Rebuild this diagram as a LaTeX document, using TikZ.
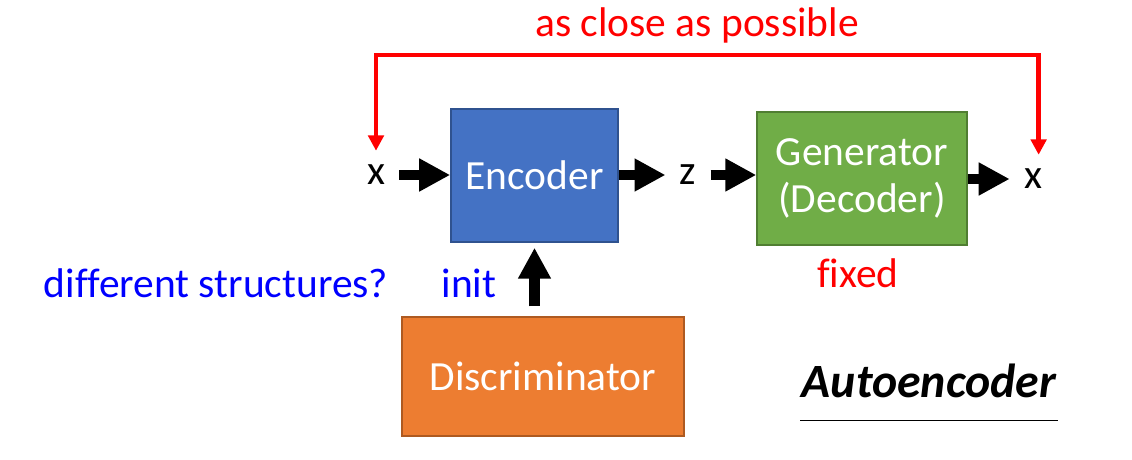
\documentclass[tikz,border=0pt]{standalone}
\usepackage{fontspec}
\setmainfont{Carlito}[Ligatures=CommonOff]
\usetikzlibrary{arrows.meta,positioning,calc}

\begin{document}
\begin{tikzpicture}[x=0.025cm,y=0.025cm,
  txt/.style={font=\fontsize{29.5}{33}\selectfont},
  block/.style={txt,text=white,line width=1pt,align=center},
  var/.style={txt,inner sep=10pt},
  fat/.style={line width=7.6pt,-{Triangle[length=22pt,width=22pt]}},
  back/.style={red,line width=3.2pt,line join=miter,
    {Triangle[length=11pt,width=11pt]}-{Triangle[length=11pt,width=11pt]}}]
  \useasboundingbox (0,0) rectangle (1132,460);
  % boxes
  \node [block,fill={rgb,255:red,68;green,114;blue,196},draw={rgb,255:red,47;green,82;blue,143},
    minimum width=4.18cm,minimum height=3.33cm] (enc) at (534.5,284.5) {Encoder};
  \node [block,fill={rgb,255:red,112;green,173;blue,71},draw={rgb,255:red,80;green,126;blue,50},
    minimum width=5.25cm,minimum height=3.33cm] (gen) at (862,281.5) {Generator\\(Decoder)};
  \node [block,fill={rgb,255:red,237;green,125;blue,49},draw={rgb,255:red,174;green,90;blue,33},
    minimum width=7.05cm,minimum height=2.98cm] (dis) at (543,83.5) {Discriminator};
  % inputs and outputs
  \node [var] (xin) at (376,285) {x};
  \node [var] (z) at (688,285) {z};
  \node [var] (xout) at (1033,281) {x};
  \draw [fat] (xin.east) -- (xin.east -| enc.west);
  \draw [fat] (enc.east |- z.west) -- (z.west);
  \draw [fat] (z.east) -- (z.east -| gen.west);
  \draw [fat] (gen.east |- xout.west) -- (xout.west);
  \draw [fat,shorten <=7pt,shorten >=3.5pt] (dis.north -| enc.south) -- (enc.south);
  % reconstruction
  \coordinate (top) at (0,405);
  \draw [back] (xin.north) -- (xin.north |- top) -- ([xshift=4pt]xout.north |- top) -- ([xshift=4pt]xout.north);
  \node [txt,red,anchor=base] (close) at (697,423) {as close as possible};
  \node [txt,red,anchor=base] (fixed) at (858,172) {fixed};
  \node [txt,blue,anchor=base] (init) at (469,162) {init};
  \node [txt,blue,anchor=base] (diff) at (216,162) {different structures?};
  % title
  \node [font=\fontsize{34}{40}\selectfont\bfseries\itshape,anchor=base,inner xsep=1pt,inner ysep=15.6pt]
    (ae) at (929,62) {Autoencoder};
  \draw [line width=1pt] (ae.south west) -- (ae.south east);
\end{tikzpicture}
\end{document}
